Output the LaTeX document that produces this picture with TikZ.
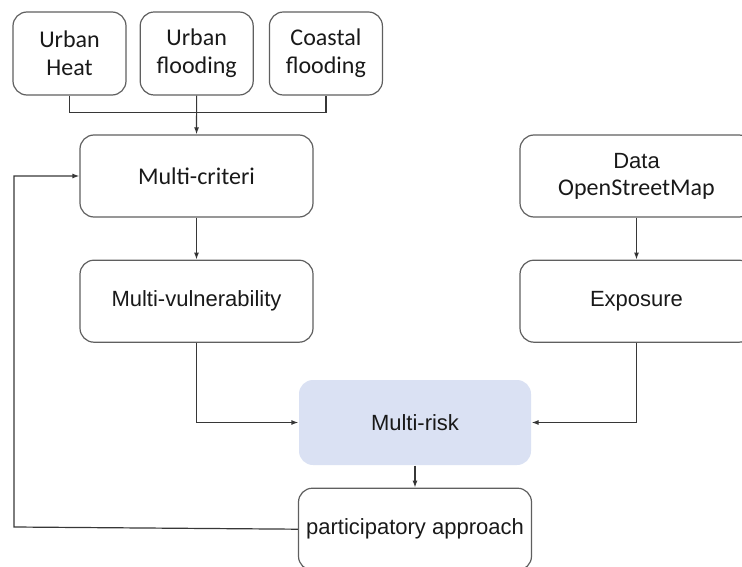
\documentclass[tikz,border=0pt]{standalone}
\usepackage{fontspec}
\setmainfont{Liberation Sans}
\newfontfamily\calfont{Carlito}
\usetikzlibrary{positioning,arrows.meta}
\definecolor{riskblue}{RGB}{218,225,243}
\definecolor{boxgray}{RGB}{95,95,95}
\definecolor{linegray}{RGB}{55,55,55}

\begin{document}
\begin{tikzpicture}[x=1pt, y=-1pt, line width=1.2pt, >={Latex[length=7pt,width=5pt]},
    main/.style = {draw=boxgray, rounded corners=14pt, minimum width=233pt, minimum height=82pt,
        align=center, text=black!90, font=\fontsize{22}{27}\selectfont},
    hazard/.style = {main, minimum width=113pt, minimum height=83pt, font=\calfont\fontsize{24}{28}\selectfont},
    risk/.style = {main, draw=none, fill=riskblue, minimum width=232pt, minimum height=85pt}]
            \path[use as bounding box, clip] (0,0) rectangle (742,567);
            \node[hazard] (heat) at (69.5,53.5) {Urban\\Heat};
            \node[hazard] (uflood) [right=13pt of heat] {Urban\\flooding};
            \node[hazard] (coast) [right=15pt of uflood] {Coastal\\flooding};
            \node[main, font=\calfont\fontsize{24}{28}\selectfont] (crit) at (196.5,176) {Multi-criteri};
            \node[main] (vuln) [below=42pt of crit] {Multi-vulnerability};
            \node[main] (data) at (636.5,176) {Data\\{\calfont\fontsize{24}{28}\selectfont OpenStreetMap}};
            \node[main] (expo) [below=42pt of data] {Exposure};
            \node[risk] (risk) at (415,422.5) {Multi-risk};
            \node[main] (part) [below=22pt of risk] {participatory approach};
            \coordinate (loop) at (14,527);
            \path[draw=linegray]
            (heat.south) -- ++(0,17) -| (coast.south);
            \path[->,draw=linegray]
            (uflood) edge (crit)
            (crit) edge (vuln)
            (data) edge (expo)
            (risk) edge (part);
            \draw[->,linegray] (vuln.south) |- (risk.west);
            \draw[->,linegray] (expo.south) |- (risk.east);
            \draw[->,linegray] (part.west) -- (loop) |- (crit.west);
        \end{tikzpicture}
\end{document}
